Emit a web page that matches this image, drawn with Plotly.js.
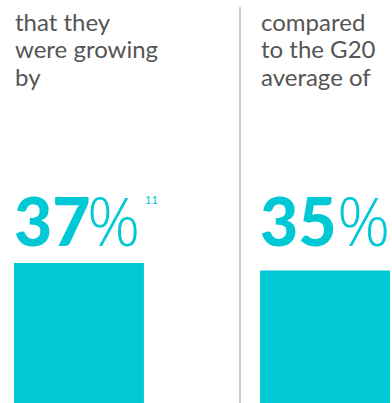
<!DOCTYPE html>
<html><head><meta charset="utf-8">
<script src="https://cdn.plot.ly/plotly-3.0.1.min.js"></script>
<style>html,body{margin:0;padding:0;background:#fff;}#chart{width:392px;height:403px;}</style>
</head><body><div id="chart"></div>
<script>
const categories = ["Growing", "G20 average"];
const values = [37, 35];
const labelLines = [["that they", "were growing", "by"], ["compared", "to the G20", "average of"]];
const footnote = "11";

const W = 392, H = 403;
const teal = "#00c8d4";
const gray = "#555555";
const px = (x) => x / W;
const py = (y) => 1 - y / H;

const trace = {
  type: "bar",
  x: [0, 1],
  y: values,
  width: 0.528,
  marker: { color: teal },
  hoverinfo: "skip",
  text: categories,
  textposition: "none"
};

const lefts = [15, 261];
const annotations = [];
labelLines.forEach((lines, i) => {
  lines.forEach((t, j) => {
    annotations.push({
      xref: "paper", yref: "paper", x: px(lefts[i] - 2), y: py(21 + j * 27.5),
      xanchor: "left", yanchor: "middle", align: "left", showarrow: false,
      text: t, font: { family: "Lato, sans-serif", size: 24, color: gray }
    });
  });
});
values.forEach((v, i) => {
  annotations.push({
    xref: "paper", yref: "paper", x: px(lefts[i] - 3), y: py(220),
    xanchor: "left", yanchor: "middle", showarrow: false,
    text: String(v), font: { family: "Lato, sans-serif", size: 66, weight: 900, color: teal }
  });
  annotations.push({
    xref: "paper", yref: "paper", x: px(lefts[i] + (i === 0 ? 70 : 74)), y: py(220),
    xanchor: "left", yanchor: "middle", showarrow: false,
    text: "%", font: { family: "'Open Sans', sans-serif", size: 66, weight: 300, color: teal }
  });
});
annotations.push({
  xref: "paper", yref: "paper", x: px(143), y: py(199),
  xanchor: "left", yanchor: "middle", showarrow: false,
  text: footnote, font: { family: "Lato, sans-serif", size: 11, color: teal }
});

const layout = {
  width: W, height: H,
  margin: { l: 0, r: 0, t: 0, b: 0, pad: 0 },
  paper_bgcolor: "#fff", plot_bgcolor: "#fff",
  showlegend: false,
  xaxis: { range: [-0.321, 1.272], visible: false, fixedrange: true },
  yaxis: { range: [0, 37 * H / 140], visible: false, fixedrange: true },
  shapes: [{
    type: "line", xref: "paper", yref: "paper",
    x0: px(240), x1: px(240), y0: py(7), y1: 0,
    line: { color: "#bbbbbb", width: 1.5 }
  }],
  annotations: annotations
};

Plotly.newPlot("chart", [trace], layout, { displayModeBar: false, staticPlot: true });
</script></body></html>
